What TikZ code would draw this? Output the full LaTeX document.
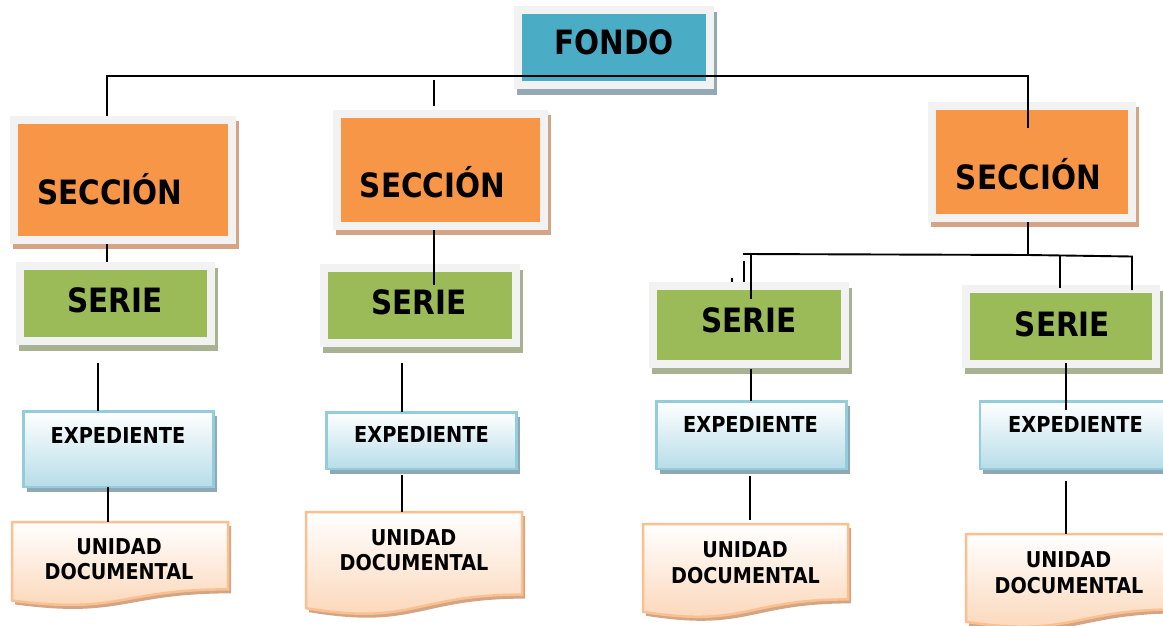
\documentclass[tikz,border=0pt]{standalone}
\usepackage{fontspec}
\setmainfont{DejaVu Sans}[FakeStretch=0.88]
\usetikzlibrary{calc,backgrounds}
\definecolor{framecol}{HTML}{F2F2F2}
\definecolor{fondocol}{HTML}{4BACC6}
\definecolor{fondosh}{HTML}{95A9B4}
\definecolor{seccol}{HTML}{F79646}
\definecolor{secsh}{HTML}{D4A484}
\definecolor{sercol}{HTML}{9BBB59}
\definecolor{sersh}{HTML}{A8B292}
\definecolor{expedge}{HTML}{93CDDD}
\definecolor{expfill}{HTML}{B7DDE8}
\definecolor{expsh}{HTML}{8FA9B4}
\definecolor{udedge}{HTML}{FAC090}
\definecolor{udfill}{HTML}{FBD4B4}
\definecolor{udsh}{HTML}{D4A585}
\newcommand\docpath[2]{($(#1.north west)+#2$) -- ($(#1.north east)+#2$) -- ($(#1.north east)!0.802!(#1.south east)+#2$) .. controls ($(#1.north)!0.802!(#1.south)+#2$) and ($(#1.north)!1.107!(#1.south)+#2$) .. ($(#1.north west)!0.934!(#1.south west)+#2$) -- cycle}
\tikzset{
  framebox/.style={rectangle, fill=framecol, inner sep=0pt, outer sep=0pt},
  expbox/.style={rectangle, draw=expedge, line width=2.5pt, top color=white, bottom color=expfill, inner sep=0pt, outer sep=0pt, minimum width=190pt},
  udanchor/.style={rectangle, inner sep=0pt, outer sep=0pt},
  udshape/.style={draw=udedge, line width=2.5pt, top color=white, bottom color=udfill},
  conn/.style={draw=black, line width=1.9pt},
  bigtxt/.style={font=\fontsize{33.5}{38}\selectfont\bfseries, anchor=base, inner sep=0pt},
  exptxt/.style={font=\fontsize{22}{26}\selectfont\bfseries, anchor=base, inner sep=0pt},
  udtxt/.style={font=\fontsize{21.8}{25}\selectfont\bfseries, anchor=base, inner sep=0pt},
}
\begin{document}
\begin{tikzpicture}[x=1pt,y=-1pt]
\useasboundingbox (0,0) rectangle (1163,626);
% frame boxes
\node[framebox, minimum width=200pt, minimum height=83pt] (fondo) at (614,47.5) {};
\node[framebox, minimum width=226pt, minimum height=128pt] (sec1) at (123,180) {};
\node[framebox, minimum width=215pt, minimum height=120pt] (sec2) at (440.5,170) {};
\node[framebox, minimum width=207.5pt, minimum height=120pt] (sec3) at (1031.75,162) {};
\node[framebox, minimum width=199pt, minimum height=83pt] (ser1) at (115.5,303.5) {};
\node[framebox, minimum width=200pt, minimum height=83pt] (ser2) at (420,305.5) {};
\node[framebox, minimum width=200pt, minimum height=86pt] (ser3) at (749,325) {};
\node[framebox, minimum width=198pt, minimum height=83pt] (ser4) at (1061,326.5) {};
% expediente boxes
\node[expbox, minimum height=75.5pt] (e1) at (118.5,449) {};
\node[expbox, minimum height=56.5pt] (e2) at (421.5,440.5) {};
\node[expbox, minimum height=67.5pt] (e3) at (751.5,435) {};
\node[expbox, minimum height=67.5pt, minimum width=200pt] (e4) at (1080,435) {};
% unidad documental anchors
\node[udanchor, minimum width=216pt, minimum height=84pt] (u1) at (120,564) {};
\node[udanchor, minimum width=216pt, minimum height=103pt] (u2) at (414,563.5) {};
\node[udanchor, minimum width=205pt, minimum height=94pt] (u3) at (745.5,571) {};
\node[udanchor, minimum width=212pt, minimum height=94pt] (u4) at (1072,581) {};
% shadows
\begin{scope}[on background layer]
  \fill[fondosh] ([shift={(3,6)}]fondo.south west) rectangle ([shift={(3,6)}]fondo.north east);
  \foreach \n in {sec1,sec2,sec3}
    \fill[secsh] ([shift={(3,5)}]\n.south west) rectangle ([shift={(3,5)}]\n.north east);
  \foreach \n in {ser1,ser2,ser3,ser4}
    \fill[sersh] ([shift={(3,6)}]\n.south west) rectangle ([shift={(3,6)}]\n.north east);
  \foreach \n in {e1,e2,e3,e4}
    \fill[expsh] ([shift={(3,5)}]\n.south west) rectangle ([shift={(3,5)}]\n.north east);
\end{scope}
% inner fills
\fill[fondocol] ([shift={(8,8)}]fondo.north west) rectangle ([shift={(-8,-8)}]fondo.south east);
\foreach \n in {sec1,sec2,sec3}
  \fill[seccol] ([shift={(8,8)}]\n.north west) rectangle ([shift={(-8,-8)}]\n.south east);
\foreach \n in {ser1,ser2,ser3,ser4}
  \fill[sercol] ([shift={(8,8)}]\n.north west) rectangle ([shift={(-8,-8)}]\n.south east);
% unidad documental shapes
\foreach \n in {u1,u2,u3,u4} {
  \fill[udsh] \docpath{\n}{(3,4)};
  \path[udshape] \docpath{\n}{(0,0)};
}
% connectors
\coordinate (bl) at (107,76);
\coordinate (br) at (1028,76);
\coordinate (s3in) at (1028,128);
\coordinate (c2top) at (434,80);
\coordinate (c2end) at (434,106);
\draw[conn] (bl |- sec1.north) -- (bl) -- (br) -- (s3in);
\draw[conn] (c2top) -- (c2end);
\draw[conn] (sec1.south -| bl) -- (ser1.north -| bl);
\coordinate (c2in) at (434,285);
\draw[conn] (sec2.south -| c2in) -- (c2in);
\coordinate (b2l) at (743,254);
\coordinate (b2m) at (1028,255);
\coordinate (b2q) at (1060,255.5);
\coordinate (b2r) at (1132,256.5);
\coordinate (s3drop) at (751,299);
\coordinate (s4dropa) at (1060,288);
\coordinate (s4dropb) at (1132,290);
\draw[conn] (sec3.south -| b2m) -- (b2m);
\draw[conn] (b2l) -- (b2m) -- (b2r) -- (s4dropb);
\draw[conn] (s3drop |- b2l) -- (s3drop);
\draw[conn] (b2q) -- (s4dropa);
\coordinate (art1a) at (744,261);
\coordinate (art1b) at (744,282);
\coordinate (art2a) at (732,278);
\coordinate (art2b) at (732,282);
\draw[conn] (art1a) -- (art1b);
\draw[conn, line width=1.2pt] (art2a) -- (art2b);
\coordinate (x1) at (98,363);
\draw[conn] (x1) -- (e1.north -| x1);
\coordinate (x2) at (402,363);
\draw[conn] (x2) -- (e2.north -| x2);
\coordinate (x3) at (751,369);
\draw[conn] (x3) -- (e3.north -| x3);
\coordinate (x4) at (1066,363);
\coordinate (x4e) at (1066,410);
\draw[conn] (x4) -- (x4e);
\coordinate (y1) at (108,0);
\draw[conn] (e1.south -| y1) -- (u1.north -| y1);
\coordinate (y2) at (402,0);
\draw[conn] ([yshift=-6pt]e2.south -| y2) -- (u2.north -| y2);
\coordinate (y3) at (750,0);
\draw[conn] ([yshift=-7pt]e3.south -| y3) -- ([yshift=4pt]u3.north -| y3);
\coordinate (y4) at (1066,0);
\draw[conn] ([yshift=-12pt]e4.south -| y4) -- (u4.north -| y4);
% texts
\node[bigtxt] (fondot) at (614,55) {FONDO};
\node[bigtxt] (sec1t) at (110,204) {SECCIÓN};
\node[bigtxt] (sec2t) at (432.5,197) {SECCIÓN};
\node[bigtxt] (sec3t) at (1028.5,189) {SECCIÓN};
\node[bigtxt] (ser1t) at (115,312) {SERIE};
\node[bigtxt] (ser2t) at (419,314) {SERIE};
\node[bigtxt] (ser3t) at (749,332) {SERIE};
\node[bigtxt] (ser4t) at (1062.5,336) {SERIE};
\node[exptxt] (e1t) at (118,443) {EXPEDIENTE};
\node[exptxt] (e2t) at (421.5,442) {EXPEDIENTE};
\node[exptxt] (e3t) at (750.5,432) {EXPEDIENTE};
\node[exptxt] (e4t) at (1075.5,432) {EXPEDIENTE};
\node[udtxt] (u1a) at (119,554) {UNIDAD};
\node[udtxt] (u1b) at (119,579) {DOCUMENTAL};
\node[udtxt] (u2a) at (413.5,545) {UNIDAD};
\node[udtxt] (u2b) at (414,570) {DOCUMENTAL};
\node[udtxt] (u3a) at (745,557) {UNIDAD};
\node[udtxt] (u3b) at (745.5,583) {DOCUMENTAL};
\node[udtxt] (u4a) at (1068.5,567) {UNIDAD};
\node[udtxt] (u4b) at (1069,593) {DOCUMENTAL};
\end{tikzpicture}
\end{document}
